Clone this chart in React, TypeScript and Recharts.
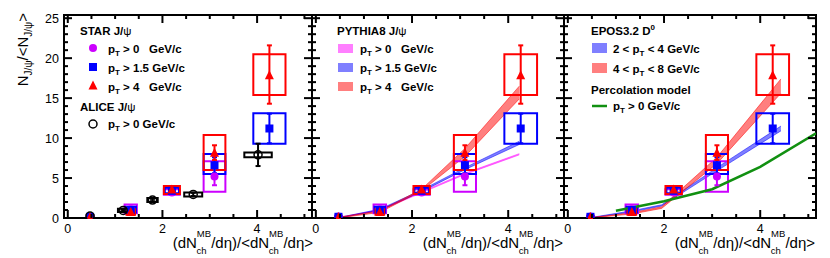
import React from 'react';
import { ComposedChart, XAxis, YAxis, Scatter, Area, Line, ErrorBar, ReferenceArea } from 'recharts';

const W = 830;
const H = 258;
const TOP = 15;
const BOTTOM = 218;
const X_DOMAIN: [number, number] = [-0.08, 5.16];
const Y_MAX = 25.4;
const X_TICKS = [0, 0.5, 1, 1.5, 2, 2.5, 3, 3.5, 4, 4.5, 5];
const X_LABELS = [0, 2, 4];
const Y_TICKS = Array.from({ length: 26 }, (_, i) => i);
const FONT = '"Liberation Sans", Arial, Helvetica, sans-serif';

const PURPLE = '#cc00ff';
const BLUE = '#0000ff';
const RED = '#ff0000';
const GREEN = '#119011';

// STAR J/psi, pT > 0
const STAR0_X = [0.47, 1.33, 2.2, 3.1];
const STAR0_Y = [0.2, 1.1, 3.2, 5.2];
const STAR0_ERR = [0.1, 0.25, 0.3, 1.1];
const STAR0_SYS_DX = [0.07, 0.13, 0.17, 0.23];
const STAR0_SYS_LO = [0.1, 0.6, 2.9, 3.3];
const STAR0_SYS_HI = [0.3, 1.7, 3.6, 7.1];

// STAR J/psi, pT > 1.5
const STAR15_X = [0.47, 1.33, 2.2, 3.1, 4.26];
const STAR15_Y = [0.15, 1.0, 3.4, 6.6, 11.2];
const STAR15_ERR = [0.1, 0.2, 0.3, 1.0, 1.85];
const STAR15_SYS_DX = [0.06, 0.11, 0.15, 0.23, 0.34];
const STAR15_SYS_LO = [0.05, 0.7, 3.1, 5.5, 9.3];
const STAR15_SYS_HI = [0.25, 1.4, 3.8, 8.0, 13.1];

// STAR J/psi, pT > 4
const STAR4_X = [0.47, 1.33, 2.2, 3.1, 4.26];
const STAR4_Y = [0.05, 0.7, 3.5, 8.1, 17.8];
const STAR4_ERR_LO = [0.05, 0.2, 0.3, 0.85, 3.5];
const STAR4_ERR_HI = [0.1, 0.2, 0.3, 1.0, 3.8];
const STAR4_SYS_DX = [0.06, 0.09, 0.17, 0.23, 0.34];
const STAR4_SYS_LO = [0.0, 0.4, 3.0, 6.0, 15.4];
const STAR4_SYS_HI = [0.2, 1.1, 4.0, 10.4, 20.5];

// ALICE J/psi, pT > 0
const ALICE_X = [0.47, 1.17, 1.79, 2.65, 4.02];
const ALICE_Y = [0.25, 0.95, 2.25, 2.95, 7.9];
const ALICE_ERR = [0.1, 0.1, 0.15, 0.2, 1.4];
const ALICE_SYS_DX = [0.07, 0.11, 0.11, 0.19, 0.29];
const ALICE_SYS_LO = [0.1, 0.75, 2.0, 2.7, 7.6];
const ALICE_SYS_HI = [0.4, 1.15, 2.5, 3.2, 8.2];

// PYTHIA8 J/psi bands
const PY_X = [0.47, 1.33, 2.2, 3.1, 4.23];
const PY0_LO = [0, 0.95, 3.15, 5.45, 7.9];
const PY0_HI = [0.05, 1.05, 3.3, 5.6, 8.05];
const PY15_LO = [0, 0.95, 3.3, 6.05, 9.2];
const PY15_HI = [0.05, 1.1, 3.5, 6.3, 9.6];
const PY4_LO = [0, 0.7, 3.4, 7.7, 14.9];
const PY4_HI = [0.1, 0.9, 3.6, 8.7, 16.5];

// EPOS3.2 D0 bands
const EPOS_X = [0.47, 1.33, 1.95, 3.1, 4.43];
const EPOS24_LO = [0, 0.75, 1.5, 5.9, 10.9];
const EPOS24_HI = [0.05, 0.9, 1.65, 6.3, 11.5];
const EPOS48_LO = [0, 0.5, 1.2, 6.8, 15.6];
const EPOS48_HI = [0.05, 0.65, 1.4, 7.6, 17.4];

// Percolation model
const PERC_X = [1.0, 2.0, 3.0, 4.0, 5.16];
const PERC_Y = [0.9, 2.1, 3.6, 6.4, 10.6];

const PANELS = [
  { left: 64, right: 312, yLabels: true },
  { left: 312, right: 564, yLabels: false },
  { left: 564, right: 816, yLabels: false },
];

const xPix = (panel: number, v: number) => {
  const p = PANELS[panel];
  return p.left + ((v - X_DOMAIN[0]) / (X_DOMAIN[1] - X_DOMAIN[0])) * (p.right - p.left);
};

const pts = (xs: number[], ys: number[], lo: number[], hi: number[]) =>
  xs.map((x, i) => ({ x, y: ys[i], err: [lo[i], hi[i]] }));
const band = (xs: number[], lo: number[], hi: number[]) =>
  xs.map((x, i) => ({ x, r: [lo[i], hi[i]] }));

const star0 = pts(STAR0_X, STAR0_Y, STAR0_ERR, STAR0_ERR);
const star15 = pts(STAR15_X, STAR15_Y, STAR15_ERR, STAR15_ERR);
const star4 = pts(STAR4_X, STAR4_Y, STAR4_ERR_LO, STAR4_ERR_HI);
const alice = pts(ALICE_X, ALICE_Y, ALICE_ERR, ALICE_ERR);

const circleShape = (color: string) => (p: any) => <circle cx={p.cx} cy={p.cy} r={4} fill={color} />;
const squareShape = (color: string) => (p: any) => <rect x={p.cx - 4} y={p.cy - 4} width={8} height={8} fill={color} />;
const triShape = (color: string) => (p: any) => (
  <polygon points={`${p.cx},${p.cy - 5.5} ${p.cx - 4.5},${p.cy + 3.5} ${p.cx + 4.5},${p.cy + 3.5}`} fill={color} />
);
const openCircle = (p: any) => <circle cx={p.cx} cy={p.cy} r={4} fill="none" stroke="#000" strokeWidth={1.5} />;

function sysBoxes(key: string, xs: number[], dx: number[], lo: number[], hi: number[], color: string) {
  return xs.map((x, i) => (
    <ReferenceArea key={`${key}-${i}`} x1={x - dx[i]} x2={x + dx[i]} y1={lo[i]} y2={hi[i]}
      fill="none" stroke={color} strokeWidth={2} fillOpacity={0} ifOverflow="visible" />
  ));
}

function bandArea(key: string, data: any[], color: string) {
  return (
    <Area key={key} data={data} dataKey="r" type="linear" fill={color} fillOpacity={0.5} stroke={color}
      strokeOpacity={0.5} strokeWidth={1} isAnimationActive={false} dot={false} activeDot={false} />
  );
}

function starLayer(prefix: string) {
  return [
    ...sysBoxes(prefix + 's0', STAR0_X, STAR0_SYS_DX, STAR0_SYS_LO, STAR0_SYS_HI, PURPLE),
    ...sysBoxes(prefix + 's15', STAR15_X, STAR15_SYS_DX, STAR15_SYS_LO, STAR15_SYS_HI, BLUE),
    ...sysBoxes(prefix + 's4', STAR4_X, STAR4_SYS_DX, STAR4_SYS_LO, STAR4_SYS_HI, RED),
    <Scatter key={prefix + 'p0'} data={star0} dataKey="y" shape={circleShape(PURPLE)} isAnimationActive={false}>
      <ErrorBar dataKey="err" direction="y" width={2.5} stroke={PURPLE} strokeWidth={2} />
    </Scatter>,
    <Scatter key={prefix + 'p15'} data={star15} dataKey="y" shape={squareShape(BLUE)} isAnimationActive={false}>
      <ErrorBar dataKey="err" direction="y" width={2.5} stroke={BLUE} strokeWidth={2} />
    </Scatter>,
    <Scatter key={prefix + 'p4'} data={star4} dataKey="y" shape={triShape(RED)} isAnimationActive={false}>
      <ErrorBar dataKey="err" direction="y" width={2.5} stroke={RED} strokeWidth={2} />
    </Scatter>,
  ];
}

function makeXTick() {
  return (props: any) => {
    const { x, payload } = props;
    const v = Number(payload.value);
    const major = Math.abs(v / 2 - Math.round(v / 2)) < 1e-6;
    const len = major ? 8 : 4;
    return (
      <g>
        <line x1={x} x2={x} y1={BOTTOM} y2={BOTTOM - len} stroke="#000" strokeWidth={2} />
        <line x1={x} x2={x} y1={TOP} y2={TOP + len} stroke="#000" strokeWidth={2} />
      </g>
    );
  };
}

function makeYTick(left: number, right: number, labels: boolean) {
  return (props: any) => {
    const { y, payload } = props;
    const v = Number(payload.value);
    const major = v % 5 === 0;
    const len = major ? 8 : 4;
    return (
      <g>
        <line x1={left} x2={left + len} y1={y} y2={y} stroke="#000" strokeWidth={2} />
        <line x1={right} x2={right - len} y1={y} y2={y} stroke="#000" strokeWidth={2} />
        {major && labels ? (
          <text x={left - 5} y={y + 4.5} textAnchor="end" fontSize={12.5} fontFamily={FONT} fill="#000">
            {String(v)}
          </text>
        ) : null}
      </g>
    );
  };
}

function Panel({ idx, children }: { idx: number; children: any }) {
  const p = PANELS[idx];
  return (
    <div style={{ position: 'absolute', left: 0, top: 0, width: W, height: H }}>
      <ComposedChart width={W} height={H}
        margin={{ left: p.left - 1, right: W - p.right, top: TOP, bottom: H - BOTTOM - 1 }}>
        <XAxis type="number" dataKey="x" domain={X_DOMAIN} allowDataOverflow ticks={X_TICKS} interval={0}
          height={1} tickSize={0} tickMargin={0} tickLine={false} axisLine={false} tick={makeXTick()} />
        <YAxis type="number" domain={[0, Y_MAX]} allowDataOverflow ticks={Y_TICKS} interval={0}
          width={1} tickSize={0} tickMargin={0} tickLine={false} axisLine={false}
          tick={makeYTick(p.left, p.right, p.yLabels)} />
        {children}
        <ReferenceArea x1={X_DOMAIN[0]} x2={X_DOMAIN[1]} y1={0} y2={Y_MAX} fill="none" fillOpacity={0}
          stroke="#000" strokeWidth={2} ifOverflow="visible" />
      </ComposedChart>
    </div>
  );
}

function PtText({ x, y, pre, post }: { x: number; y: number; pre: string; post: string }) {
  return (
    <text x={x} y={y} fontSize={11.5} fontWeight="bold" fontFamily={FONT} style={{ whiteSpace: 'pre' }}>
      {pre}p
      <tspan dy={3} fontSize={8}>T</tspan>
      <tspan dy={-3}>{post}</tspan>
    </text>
  );
}

function Title({ x, y, main, greek }: { x: number; y: number; main: string; greek?: string }) {
  return (
    <text x={x} y={y} fontSize={11.5} fontWeight="bold" fontFamily={FONT} style={{ whiteSpace: 'pre' }}>
      {main}
      {greek ? <tspan fontWeight="normal">{greek}</tspan> : null}
    </text>
  );
}

function XTitle({ right }: { right: number }) {
  return (
    <text x={right} y={248} textAnchor="end" fontSize={15} fontFamily={FONT}>
      (dN
      <tspan dy={-11} fontSize={9.5}>MB</tspan>
      <tspan dx={-14.5} dy={16.5} fontSize={9.5}>ch</tspan>
      <tspan dx={4.5} dy={-5.5} fontSize={15}>/dη)/&lt;dN</tspan>
      <tspan dy={-11} fontSize={9.5}>MB</tspan>
      <tspan dx={-14.5} dy={16.5} fontSize={9.5}>ch</tspan>
      <tspan dx={4.5} dy={-5.5} fontSize={15}>/dη&gt;</tspan>
    </text>
  );
}

function Overlay() {
  return (
    <svg width={W} height={H} style={{ position: 'absolute', left: 0, top: 0, pointerEvents: 'none' }}>
      {PANELS.map((_, pi) =>
        X_LABELS.map((v) => (
          <text key={`xl-${pi}-${v}`} x={xPix(pi, v)} y={BOTTOM + 14.5} textAnchor="middle" fontSize={12.5}
            fontFamily={FONT} fill="#000">
            {String(v)}
          </text>
        ))
      )}
      <text transform="translate(28,13) rotate(-90)" textAnchor="end" fontSize={15} fontFamily={FONT}>
        N
        <tspan dy={4} fontSize={10}>J/ψ</tspan>
        <tspan dy={-4} fontSize={15}>/&lt;N</tspan>
        <tspan dy={4} fontSize={10}>J/ψ</tspan>
        <tspan dy={-4} fontSize={15}>&gt;</tspan>
      </text>
      <XTitle right={313} />
      <XTitle right={563} />
      <XTitle right={815} />

      <Title x={80} y={35} main="STAR J/" greek="ψ" />
      <circle cx={93} cy={48} r={4} fill={PURPLE} />
      <PtText x={108} y={52.5} pre="" post=" > 0   GeV/c" />
      <rect x={89} y={63} width={8} height={8} fill={BLUE} />
      <PtText x={108} y={71.5} pre="" post=" > 1.5 GeV/c" />
      <polygon points="93,80.5 88.5,89.5 97.5,89.5" fill={RED} />
      <PtText x={108} y={90.5} pre="" post=" > 4   GeV/c" />
      <Title x={80} y={111} main="ALICE J/" greek="ψ" />
      <circle cx={93} cy={124} r={4} fill="none" stroke="#000" strokeWidth={1.5} />
      <PtText x={108} y={128} pre="" post=" > 0 GeV/c" />

      <Title x={337} y={35} main="PYTHIA8 J/" greek="ψ" />
      <rect x={338} y={44} width={15} height={9} fill="#ff00ff" fillOpacity={0.5} />
      <PtText x={360} y={52.5} pre="" post=" > 0   GeV/c" />
      <rect x={338} y={63} width={15} height={9} fill={BLUE} fillOpacity={0.5} />
      <PtText x={360} y={71.5} pre="" post=" > 1.5 GeV/c" />
      <rect x={338} y={82} width={15} height={9} fill={RED} fillOpacity={0.5} />
      <PtText x={360} y={90.5} pre="" post=" > 4   GeV/c" />

      <text x={591} y={35} fontSize={11.5} fontWeight="bold" fontFamily={FONT}>
        EPOS3.2 D<tspan dy={-5} fontSize={8}>0</tspan>
      </text>
      <rect x={592} y={43} width={15} height={10} fill={BLUE} fillOpacity={0.5} />
      <PtText x={613} y={53} pre="2 < " post=" < 4 GeV/c" />
      <rect x={592} y={63} width={15} height={10} fill={RED} fillOpacity={0.5} />
      <PtText x={613} y={73} pre="4 < " post=" < 8 GeV/c" />
      <Title x={591} y={93.5} main="Percolation model" />
      <line x1={592} x2={607} y1={106} y2={106} stroke={GREEN} strokeWidth={2.5} />
      <PtText x={613} y={110} pre="" post=" > 0 GeV/c" />
    </svg>
  );
}

export default function App() {
  return (
    <div style={{ position: 'absolute', left: 0, top: 0, width: W, height: H, background: '#fff', fontFamily: FONT }}>
      <Panel idx={0}>
        {starLayer('a')}
        {sysBoxes('alice', ALICE_X, ALICE_SYS_DX, ALICE_SYS_LO, ALICE_SYS_HI, '#000')}
        <Scatter data={alice} dataKey="y" shape={openCircle} isAnimationActive={false}>
          <ErrorBar dataKey="err" direction="y" width={2.5} stroke="#000" strokeWidth={2} />
        </Scatter>
      </Panel>
      <Panel idx={1}>
        {bandArea('py0', band(PY_X, PY0_LO, PY0_HI), '#ff00ff')}
        {bandArea('py15', band(PY_X, PY15_LO, PY15_HI), BLUE)}
        {bandArea('py4', band(PY_X, PY4_LO, PY4_HI), RED)}
        {starLayer('b')}
      </Panel>
      <Panel idx={2}>
        {bandArea('ep24', band(EPOS_X, EPOS24_LO, EPOS24_HI), BLUE)}
        {bandArea('ep48', band(EPOS_X, EPOS48_LO, EPOS48_HI), RED)}
        <Line data={PERC_X.map((x, i) => ({ x, y: PERC_Y[i] }))} dataKey="y" type="linear" stroke={GREEN}
          strokeWidth={2.5} dot={false} activeDot={false} isAnimationActive={false} />
        {starLayer('c')}
      </Panel>
      <Overlay />
    </div>
  );
}
